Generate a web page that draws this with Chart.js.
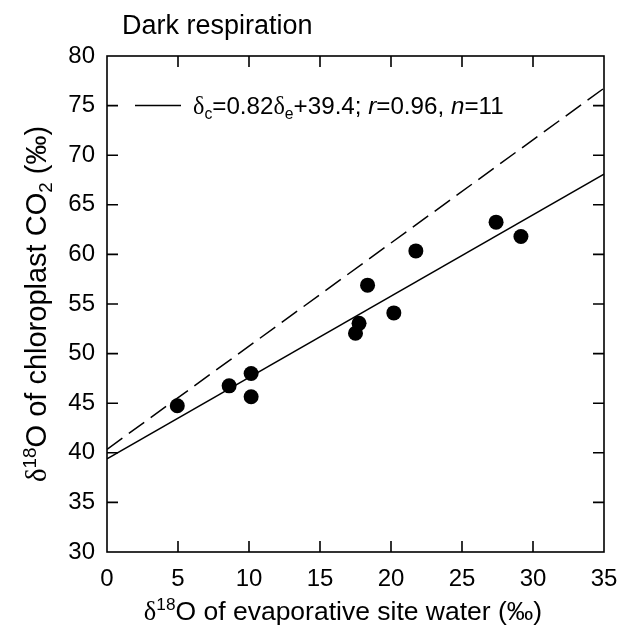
<!DOCTYPE html>
<html lang="en">
<head>
  <meta charset="UTF-8" />
  <title>Dark respiration</title>
  <script src="https://cdn.jsdelivr.net/npm/chart.js"></script>
  <style>
    body { margin: 0; background: #fff; }
    #wrap { width: 619px; height: 632px; }
  </style>
</head>
<body>
  <div id="wrap"><canvas id="chart" width="619" height="632"></canvas></div>

  <script>
    // values
    const waterD18O = [4.95, 8.6, 10.15, 10.15, 17.5, 17.75, 18.35, 20.2, 21.75, 27.4, 29.15];
    const co2D18O = [44.75, 46.75, 48.0, 45.65, 52.05, 53.05, 56.9, 54.1, 60.35, 63.25, 61.8];
    const lineX = [0, 35];
    const fitY = [39.4, 68.1];       // solid regression line
    const equilY = [40.35, 76.75];   // dashed line
    const xTicks = [0, 5, 10, 15, 20, 25, 30, 35];
    const yTicks = [30, 35, 40, 45, 50, 55, 60, 65, 70, 75, 80];

    const SANS = "'Liberation Sans', Arial, sans-serif";
    const SERIF = "'Liberation Serif', 'Times New Roman', serif";

    // draw text runs with sub/superscripts and italics
    function richWidth(ctx, runs, size) {
      let w = 0;
      runs.forEach(r => {
        const s = r.s ? size * 0.65 : size;
        ctx.font = (r.i ? 'italic ' : '') + s + 'px ' + (r.f || SANS);
        w += ctx.measureText(r.t).width;
      });
      return w;
    }
    function drawRich(ctx, runs, x, y, size, align) {
      let cx = align === 'center' ? x - richWidth(ctx, runs, size) / 2 : x;
      ctx.textBaseline = 'alphabetic';
      ctx.textAlign = 'left';
      runs.forEach(r => {
        const s = r.s ? size * 0.65 : size;
        ctx.font = (r.i ? 'italic ' : '') + s + 'px ' + (r.f || SANS);
        let dy = 0;
        if (r.s === 'sub') dy = size * 0.22;
        if (r.s === 'sup') dy = -size * 0.36;
        ctx.fillText(r.t, cx, y + dy);
        cx += ctx.measureText(r.t).width;
      });
    }

    const framePlugin = {
      id: 'frame',
      afterDraw(chart) {
        const { ctx, chartArea: a, scales } = chart;
        ctx.save();
        ctx.strokeStyle = '#000';
        ctx.lineWidth = 1.6;
        ctx.strokeRect(a.left, a.top, a.right - a.left, a.bottom - a.top);
        const tl = 11;
        ctx.beginPath();
        xTicks.slice(1, -1).forEach(v => {
          const px = scales.x.getPixelForValue(v);
          ctx.moveTo(px, a.bottom); ctx.lineTo(px, a.bottom - tl);
          ctx.moveTo(px, a.top); ctx.lineTo(px, a.top + tl);
        });
        yTicks.slice(1, -1).forEach(v => {
          const py = scales.y.getPixelForValue(v);
          ctx.moveTo(a.left, py); ctx.lineTo(a.left + tl, py);
          ctx.moveTo(a.right, py); ctx.lineTo(a.right - tl, py);
        });
        ctx.stroke();

        ctx.fillStyle = '#000';
        // panel title
        drawRich(ctx, [{ t: 'Dark respiration' }], 122, 34, 27, 'left');

        // legend
        const ly = scales.y.getPixelForValue(75);
        ctx.lineWidth = 1.5;
        ctx.beginPath();
        ctx.moveTo(135, ly); ctx.lineTo(181, ly);
        ctx.stroke();
        drawRich(ctx, [
          { t: 'δ', f: SERIF }, { t: 'c', s: 'sub' }, { t: '=0.82' },
          { t: 'δ', f: SERIF }, { t: 'e', s: 'sub' }, { t: '+39.4; ' },
          { t: 'r', i: true }, { t: '=0.96, ' }, { t: 'n', i: true }, { t: '=11' }
        ], 193, ly + 8.5, 24.2, 'left');

        // x axis title
        drawRich(ctx, [
          { t: 'δ', f: SERIF }, { t: '18', s: 'sup' }, { t: 'O of evaporative site water (‰)' }
        ], 343, 620, 26.5, 'center');

        // y axis title
        ctx.translate(46, 304);
        ctx.rotate(-Math.PI / 2);
        drawRich(ctx, [
          { t: 'δ', f: SERIF }, { t: '18', s: 'sup' }, { t: 'O of chloroplast CO' },
          { t: '2', s: 'sub' }, { t: ' (‰)' }
        ], 0, 0, 29, 'center');
        ctx.restore();
      }
    };

    const points = waterD18O.map((x, i) => ({ x: x, y: co2D18O[i] }));
    const fitLine = lineX.map((x, i) => ({ x: x, y: fitY[i] }));
    const equilLine = lineX.map((x, i) => ({ x: x, y: equilY[i] }));

    new Chart(document.getElementById('chart'), {
      type: 'scatter',
      data: {
        datasets: [
          {
            label: 'measured',
            data: points,
            backgroundColor: '#000',
            borderWidth: 0,
            pointRadius: 7.5,
            order: 0
          },
          {
            label: 'fit',
            data: fitLine,
            showLine: true,
            borderColor: '#000',
            borderWidth: 1.5,
            pointRadius: 0,
            order: 1
          },
          {
            label: 'dashed',
            data: equilLine,
            showLine: true,
            borderColor: '#000',
            borderWidth: 1.5,
            borderDash: [19, 8],
            pointRadius: 0,
            order: 2
          }
        ]
      },
      options: {
        responsive: false,
        animation: false,
        layout: { padding: { top: 56, right: 15, left: 0, bottom: 0 } },
        plugins: {
          legend: { display: false },
          tooltip: { enabled: false },
          title: { display: false }
        },
        scales: {
          x: {
            type: 'linear',
            min: xTicks[0],
            max: xTicks[xTicks.length - 1],
            grid: { display: false },
            border: { display: false },
            ticks: {
              stepSize: xTicks[1] - xTicks[0],
              color: '#000',
              padding: 5,
              font: { family: SANS, size: 24 }
            },
            afterFit(scale) {
              scale.height = 80;
              scale.paddingLeft = 0;
              scale.paddingRight = 0;
            }
          },
          y: {
            type: 'linear',
            min: yTicks[0],
            max: yTicks[yTicks.length - 1],
            grid: { display: false },
            border: { display: false },
            ticks: {
              stepSize: yTicks[1] - yTicks[0],
              color: '#000',
              padding: 4,
              font: { family: SANS, size: 24 }
            },
            afterFit(scale) {
              scale.width = 107;
              scale.paddingTop = 0;
              scale.paddingBottom = 0;
            }
          }
        }
      },
      plugins: [framePlugin]
    });
  </script>
</body>
</html>
